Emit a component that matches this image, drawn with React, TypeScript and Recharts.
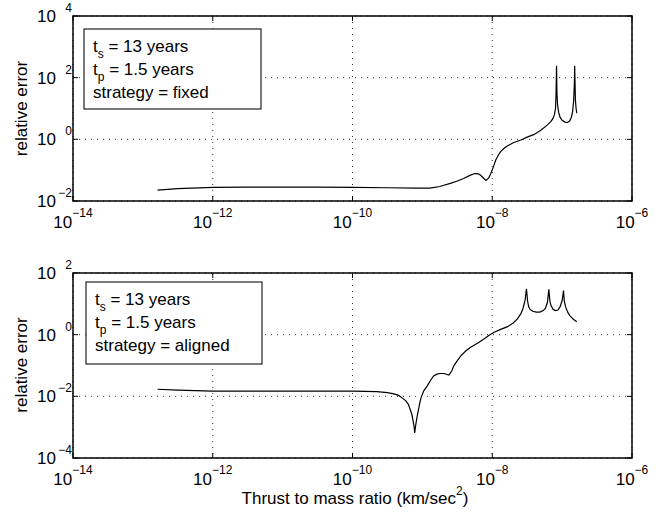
import { CartesianGrid, Line, LineChart, XAxis, YAxis } from "recharts";

const FONT = '"Liberation Sans", Arial, Helvetica, sans-serif';

// exponents of the decade ticks
const xTicks = [-14, -12, -10, -8, -6];
const fixedYTicks = [-2, 0, 2, 4];
const alignedYTicks = [-4, -2, 0, 2];

// log10(thrust to mass ratio) and log10(relative error)
const fixedLogThrust = [
  -12.79, -12.5, -12.0, -11.5, -11.0, -10.5, -10.0, -9.5, -9.1, -8.89, -8.75, -8.6, -8.5, -8.41,
  -8.32, -8.25, -8.2, -8.17, -8.12, -8.09, -8.05, -8.02, -7.98, -7.95, -7.91, -7.88, -7.83, -7.78,
  -7.7, -7.59, -7.5, -7.4, -7.3, -7.21, -7.16, -7.13, -7.11, -7.095, -7.087, -7.08, -7.074, -7.065,
  -7.05, -7.03, -7.0, -6.96, -6.92, -6.89, -6.87, -6.85, -6.835, -6.825, -6.82, -6.815, -6.81,
  -6.8, -6.79,
];
const fixedLogError = [
  -1.65, -1.6, -1.56, -1.55, -1.55, -1.55, -1.56, -1.57, -1.58, -1.58, -1.53, -1.43, -1.35, -1.27,
  -1.17, -1.11, -1.12, -1.16, -1.27, -1.33, -1.25, -1.11, -0.87, -0.67, -0.5, -0.4, -0.29, -0.21,
  -0.11, -0.02, 0.07, 0.16, 0.3, 0.47, 0.58, 0.68, 0.8, 1.0, 1.45, 2.39, 1.5, 1.1,
  0.88, 0.72, 0.62, 0.56, 0.55, 0.6, 0.7, 0.9, 1.25, 1.8, 2.39, 1.8, 1.28,
  1.0, 0.85,
];

const alignedLogThrust = [
  -12.79, -12.5, -12.0, -11.5, -11.0, -10.5, -10.0, -9.65, -9.5, -9.41, -9.34, -9.29, -9.24, -9.2,
  -9.15, -9.12, -9.11, -9.09, -9.07, -9.04, -9.02, -8.98, -8.93, -8.88, -8.84, -8.79, -8.75, -8.69,
  -8.62, -8.58, -8.55, -8.5, -8.45, -8.38, -8.31, -8.2, -8.12, -8.05, -7.98, -7.88, -7.78, -7.7,
  -7.64, -7.59, -7.56, -7.53, -7.51, -7.495, -7.48, -7.46, -7.42, -7.37, -7.32, -7.27, -7.24, -7.21,
  -7.19, -7.175, -7.16, -7.13, -7.1, -7.06, -7.03, -7.0, -6.98, -6.97, -6.95, -6.92, -6.89, -6.84,
  -6.79,
];
const alignedLogError = [
  -1.77, -1.8, -1.83, -1.83, -1.83, -1.83, -1.83, -1.85, -1.88, -1.92, -1.97, -2.05, -2.14, -2.26,
  -2.59, -2.95, -3.19, -2.85, -2.59, -2.25, -2.05, -1.82, -1.66, -1.47, -1.34, -1.28, -1.26, -1.26,
  -1.31, -1.18, -1.01, -0.84, -0.69, -0.53, -0.41, -0.26, -0.14, -0.03, 0.07, 0.17, 0.26, 0.38,
  0.51, 0.68, 0.85, 1.12, 1.49, 1.1, 0.92, 0.82, 0.76, 0.73, 0.73, 0.78, 0.85, 1.05,
  1.47, 1.08, 0.95, 0.82, 0.78, 0.8, 0.9, 1.1, 1.43, 1.1, 0.9, 0.73, 0.62, 0.5,
  0.42,
];

const fixedNote = ["13 years", "1.5 years", "fixed"];
const alignedNote = ["13 years", "1.5 years", "aligned"];

const fixedData = fixedLogThrust.map((x, i) => ({ x, y: fixedLogError[i] }));
const alignedData = alignedLogThrust.map((x, i) => ({ x, y: alignedLogError[i] }));

const sup = (v: number) => (v < 0 ? "\u2212" + Math.abs(v) : String(v));

// plot box is fixed, so opposite-side ticks are drawn from the bottom/left ones
const PLOT_H = 185;
const PLOT_W = 559;

function BottomTick({ x, y, payload }: any) {
  return (
    <g>
      <line x1={x} y1={y} x2={x} y2={y - 5} stroke="#000" />
      <line x1={x} y1={y - PLOT_H} x2={x} y2={y - PLOT_H + 5} stroke="#000" />
      <text x={x} y={y + 27} textAnchor="middle" fontSize={17} fontFamily={FONT} fill="#000">
        10
        <tspan dy={-11} fontSize={12}>
          {sup(payload.value)}
        </tspan>
      </text>
    </g>
  );
}

function LeftTick({ x, y, payload }: any) {
  return (
    <g>
      <line x1={x} y1={y} x2={x + 5} y2={y} stroke="#000" />
      <line x1={x + PLOT_W} y1={y} x2={x + PLOT_W - 5} y2={y} stroke="#000" />
      <text x={x - 36} y={y + 6} fontSize={17} fontFamily={FONT} fill="#000">
        10
      </text>
      <text x={x - 1} y={y - 4} textAnchor="end" fontSize={12} fontFamily={FONT} fill="#000">
        {sup(payload.value)}
      </text>
    </g>
  );
}

function Panel({
  data,
  yTicks,
  xAxisHeight,
}: {
  data: { x: number; y: number }[];
  yTicks: number[];
  xAxisHeight: number;
}) {
  const yDomain = [yTicks[0], yTicks[yTicks.length - 1]];
  return (
    <LineChart
      width={668}
      height={235}
      data={data}
      margin={{ top: 16, right: 36, bottom: 0, left: 13 }}
    >
      <CartesianGrid stroke="#333" strokeDasharray="1 5" />
      <XAxis
        dataKey="x"
        type="number"
        domain={[-14, -6]}
        ticks={xTicks}
        interval={0}
        allowDataOverflow
        height={xAxisHeight}
        tickSize={0}
        tickMargin={0}
        tickLine={false}
        axisLine={false}
        tick={(p: any) => <BottomTick {...p} />}
      />
      <YAxis
        type="number"
        domain={yDomain}
        ticks={yTicks}
        interval={0}
        allowDataOverflow
        width={60}
        tickSize={0}
        tickMargin={0}
        tickLine={false}
        axisLine={false}
        tick={(p: any) => <LeftTick {...p} />}
      />
      <Line
        type="linear"
        dataKey="y"
        stroke="#000"
        strokeWidth={1.2}
        dot={false}
        isAnimationActive={false}
      />
    </LineChart>
  );
}

function NoteBox({ x, y, w, h, note }: { x: number; y: number; w: number; h: number; note: string[] }) {
  const tx = x + 9;
  return (
    <g fontFamily={FONT} fontSize={17} fill="#000">
      <rect x={x} y={y} width={w} height={h} fill="#fff" stroke="#222" strokeWidth={1.2} />
      <text x={tx} y={y + 23}>
        t
        <tspan dy={6} fontSize={12}>
          s
        </tspan>
        <tspan dy={-6}> = {note[0]}</tspan>
      </text>
      <text x={tx} y={y + 46}>
        t
        <tspan dy={6} fontSize={12}>
          p
        </tspan>
        <tspan dy={-6}> = {note[1]}</tspan>
      </text>
      <text x={tx} y={y + 69}>strategy = {note[2]}</text>
    </g>
  );
}

export default function App() {
  return (
    <div
      style={{
        position: "absolute",
        left: 0,
        top: 0,
        width: 668,
        height: 517,
        background: "#fff",
        fontFamily: FONT,
      }}
    >
      <div style={{ position: "absolute", left: 0, top: 0 }}>
        <Panel data={fixedData} yTicks={fixedYTicks} xAxisHeight={34} />
      </div>
      <div style={{ position: "absolute", left: 0, top: 257 }}>
        <Panel data={alignedData} yTicks={alignedYTicks} xAxisHeight={34} />
      </div>
      <svg
        width={668}
        height={517}
        style={{ position: "absolute", left: 0, top: 0, pointerEvents: "none" }}
      >
        <rect x={73} y={16} width={PLOT_W} height={PLOT_H} fill="none" stroke="#000" strokeWidth={1.5} />
        <rect x={73} y={273} width={PLOT_W} height={PLOT_H} fill="none" stroke="#000" strokeWidth={1.5} />
        <NoteBox x={84} y={29} w={177} h={80} note={fixedNote} />
        <NoteBox x={86} y={282} w={176} h={82} note={alignedNote} />
        <text
          transform="translate(27,108.5) rotate(-90)"
          textAnchor="middle"
          fontFamily={FONT}
          fontSize={17}
          fill="#000"
        >
          relative error
        </text>
        <text
          transform="translate(27,365) rotate(-90)"
          textAnchor="middle"
          fontFamily={FONT}
          fontSize={17}
          fill="#000"
        >
          relative error
        </text>
        <text x={355} y={504} textAnchor="middle" fontFamily={FONT} fontSize={17} fill="#000">
          Thrust to mass ratio (km/sec
          <tspan dy={-9} fontSize={12}>
            2
          </tspan>
          <tspan dy={9}>)</tspan>
        </text>
      </svg>
    </div>
  );
}
